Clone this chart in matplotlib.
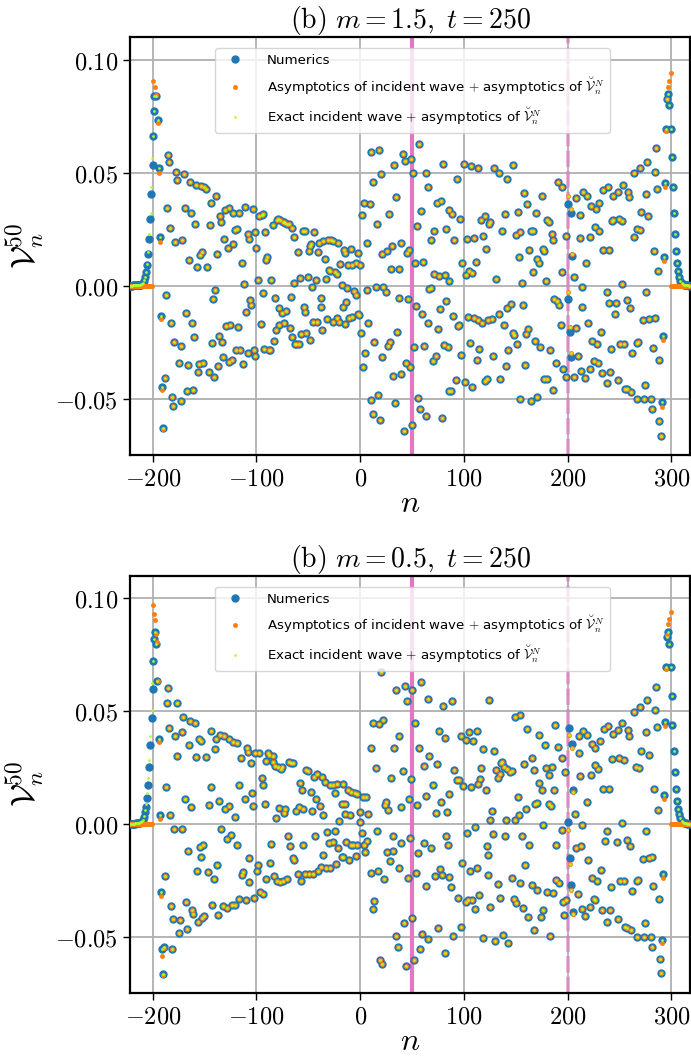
import numpy as np
import matplotlib
matplotlib.use('Agg')
import matplotlib.pyplot as plt

plt.rcParams['mathtext.fontset'] = 'cm'
plt.rcParams['font.family'] = ['DejaVu Sans']

sc = 1e-3

## ---------------- top panel (m = 1.5) ----------------
# points where all three series coincide
top_a_n = [-188.4,-187.4,-185.5,-184.2,-186.2,-183.3,-182.6,-181.0,-180.4,-179.7,
           -178.1,-177.2,-176.2,-174.3,-173.0,-172.3,-171.4,-170.1,-169.1,-168.2,
           -167.2,-166.2,-165.3,-164.0,-163.0,-162.1,-161.1,-160.1,-159.2,-158.5,
           -156.9,-156.0,-155.0,-154.0,-153.1,-152.1,-151.2,-150.2,-148.3,-147.3,
           -146.0,-144.7,-143.8,-143.1,-142.2,-141.2,-139.9,-139.0,-138.0,-137.0,
           -136.4,-135.4,-134.5,-133.5,-131.9,-130.9,-130.0,-129.0,-127.7,-126.8,
           -126.1,-125.2,-123.9,-122.9,-122.3,-121.0,-120.0,-119.1,-118.1,-116.5,
           -115.5,-113.9,-113.0,-112.0,-111.0,-110.1,-108.5,-108.1,-107.2,-106.2,
           -105.2,-103.6,-102.4,-101.7,-101.1,-100.1,-98.8,-97.5,-95.9,-95.0,
           -94.0,-93.4,-92.4,-91.4,-90.5,-89.5,-87.9,-86.6,-85.6,-84.4,
           -83.4,-82.4,-81.2,-79.9,-78.9,-78.3,-77.9,-77.0,-75.7,-74.7,
           -73.5,-73.1,-72.2,-71.2,-70.2,-69.0,-68.0,-67.0,-65.7,-65.4,
           -64.1,-63.5,-62.9,-61.6,-60.3,-59.0,-57.7,-56.8,-55.5,-54.5,
           -53.5,-52.9,-52.3,-50.7,-49.4,-48.4,-48.1,-47.1,-46.2,-45.2,
           -44.2,-42.9,-42.0,-41.0,-39.4,-38.1,-37.5,-36.5,-35.6,-34.3,
           -33.0,-32.0,-31.1,-30.1]
top_a_v = [-41.1,-4.1,57.9,54.8,34.3,25.4,-16.7,-49.5,-53.4,-25.1,
           19.2,50.5,46.9,-34.4,-51.1,-26.5,20.2,49.5,34.3,-12.0,
           -46.6,-35.2,11.4,46.1,32.1,-16.4,-46.0,-22.9,27.2,44.6,
           8.1,-38.1,-34.6,13.6,44.3,15.1,-34.1,43.9,42.9,8.1,
           -38.1,26.9,36.8,-25.3,-6.1,-40.6,-1.8,39.9,13.9,-35.6,
           -22.2,30.9,28.2,-24.8,-31.5,20.8,33.6,-17.7,16.7,-33.7,
           34.6,-17.4,-33.0,18.5,32.1,24.7,-28.5,25.0,-18.2,32.4,
           -28.5,10.2,-34.7,0.6,35.0,-11.5,23.1,-29.9,20.5,-6.4,
           -8.4,34.0,-28.5,-31.2,23.6,16.6,2.5,31.0,-17.0,31.3,
           31.6,-3.4,-28.2,23.6,11.4,12.6,-28.5,-28.5,2.5,27.0,
           -24.4,-5.6,-19.7,29.1,29.6,-10.1,-17.4,29.1,-12.3,28.4,
           28.4,-16.7,27.9,-11.1,27.2,27.2,-18.9,-5.2,25.4,-22.6,
           1.3,21.7,-25.9,-25.9,15.1,-25.9,3.3,-21.6,24.4,-9.3,
           -11.5,24.4,-21.1,3.7,15.5,-24.2,17.6,18.5,-0.6,-16.0,
           23.6,2.5,-16.0,14.8,18.8,-5.3,-9.3,-19.7,20.0,11.7,
           2.8,-14.9,20.2,6.9]

top_b_n = [-28.6,-26.0,-21.5,-15.7,-14.4,-9.3,-1.9,-19.2,-11.5,-8.3,
           -4.2,0.3,-28.9,-24.1,-22.8,-18.0,-12.5,-6.4,-4.5,-16.7,
           -13.8,-26.0,-22.1,-20.2,-15.1,-10.6,-8.0,-2.2,-0.9]
top_b_v = [20.2,19.8,19.1,15.8,14.3,16.1,14.6,9.8,9.0,9.0,
           10.2,9.0,6.7,5.9,5.0,0.3,-1.2,-2.2,-4.3,-9.3,
           -7.1,-16.0,-14.2,-16.3,-17.0,-14.2,-13.7,-12.6,-13.0]

top_c_n = [10.6,18.0,40.8,43.0,48.8,56.9,32.8,19.9,51.1,63.0,
           12.5,64.9,35.0,3.6,9.0,1.6,28.0,58.8,74.2,78.0,
           16.1,54.9,71.0,6.1,30.8,38.9,21.5,26.0,47.2,45.3,
           68.7,83.2,29.9,37.3,53.0,61.0,71.3,75.8,81.9,6.8,
           15.1,22.2,24.7,67.8,66.5,37.6,45.9,54.0,59.7,65.5,
           77.1,74.8,82.9,7.7,1.0,13.5,27.3,29.2,35.7,4.5,
           20.6,2.6,52.0,61.7,72.9,70.0,81.0,84.2,43.7,47.9,
           31.8,39.5,10.0,17.0,33.7,55.9,11.9,19.0,57.8,63.9,
           78.7,42.1,49.8,85.8,80.0,85.7,85.7]
top_c_v = [59.0,60.2,58.4,55.1,56.2,62.7,53.4,49.4,50.1,49.8,
           45.7,43.9,39.3,36.5,36.1,31.2,31.8,33.1,36.5,37.5,
           27.5,26.6,24.2,19.1,17.6,18.9,14.2,15.2,15.8,14.3,
           20.2,25.1,7.2,7.2,10.2,10.5,5.2,4.3,4.7,-1.9,
           -0.7,-0.7,-3.0,-0.9,-1.6,-5.6,-6.1,-8.9,-12.6,-16.7,
           -10.5,-19.2,-6.9,-16.7,-21.1,-24.8,-26.5,-24.8,-20.7,-30.0,
           -31.8,-36.1,-27.3,-26.8,-31.3,-33.3,-26.3,-27.0,-34.1,-36.1,
           -39.8,-39.3,-50.7,-48.2,-51.9,-49.7,-57.0,-59.5,-54.8,-57.8,
           -58.5,-64.3,-61.8,-46.7,53.8,2.2,33.3]

top_d_n = [100.2,106.6,114.0,129.4,133.9,141.9,147.4,93.4,190.7,194.3,
           158.0,175.0,160.9,169.2,139.3,151.9,214.5,219.0,207.7,234.1,
           239.2,243.7,248.2,253.3,257.8,259.1,264.3,269.7,276.8,284.2,
           285.1,286.1,275.8,271.0,277.7,249.5,242.7,230.2,222.8,227.0,
           211.6,198.7,205.8,194.9,198.7,206.1,179.8,181.7,184.9,185.6,
           166.6,164.7,162.8,175.9,177.6,170.2,172.7,166.6,156.0,178.8,
           150.3,154.4,153.2,124.9,120.4,116.2,123.9,136.8,121.7,118.8,
           109.5,103.4,97.9,101.8,105.0,107.6,112.1,131.0,88.6,96.0,
           90.9,89.6,94.4,95.4,104.3,109.8,114.0,117.2,123.0,126.8,
           133.6,141.6,145.1,157.0,138.4,147.4,148.7,159.6,161.5,168.2,
           173.7,183.0,189.1,195.9,212.9,217.1,221.2,225.1,228.9,233.1,
           237.6,240.8,248.5,255.3,257.2,261.0,266.8,273.6,280.3,274.2,
           280.9,288.3,290.3,287.7,282.2,284.2,278.4,272.3,266.5,268.1,
           262.0,254.3,250.4,241.8,246.0,246.9,240.2,237.9,252.1,257.2,
           259.8,275.2,287.1,283.2,214.2,218.0,211.9,221.5,226.0,230.2,
           233.8,240.2,263.6,269.7,266.5,252.7,244.0,213.8,219.9,223.8,
           228.3,231.8,210.0,207.7,191.7,189.4,187.2,193.3,185.9,177.6,
           179.8,170.8,165.0,154.1,158.9,151.2,142.9,140.3,134.5,128.1,
           122.7,120.4,113.0,114.9,106.3,97.6,107.6,101.1,92.1,88.0]
top_d_v = [53.8,52.8,52.3,52.3,49.8,47.4,53.4,47.4,46.1,43.5,
           41.2,39.9,36.1,32.4,31.9,32.7,41.4,39.8,38.9,42.4,
           43.6,39.8,41.7,44.8,41.5,39.2,49.8,52.0,54.8,50.5,
           60.9,42.9,40.8,32.7,30.7,29.7,28.7,36.5,35.5,34.0,
           31.3,22.0,3.7,6.2,-40.3,-40.6,29.0,28.2,22.9,20.1,
           24.2,24.2,15.7,16.3,15.2,11.7,9.9,5.9,1.0,2.1,
           22.3,23.6,12.9,28.4,31.0,29.1,27.2,24.4,16.4,22.2,
           21.1,20.5,10.1,4.7,6.4,5.5,10.6,3.0,31.6,29.6,
           20.2,-13.4,-17.9,-17.4,-13.7,-14.2,-15.2,-16.4,-15.2,-14.9,
           -12.7,-9.8,-8.3,-8.6,-17.4,-21.1,-21.7,-21.4,-19.2,-24.5,
           -27.0,-28.5,-34.1,-36.7,-37.8,-40.9,-36.8,-33.3,-34.3,-38.6,
           -43.3,-38.4,-41.8,-45.7,-45.7,-47.1,-50.4,-50.1,-50.1,-44.0,
           -54.8,-59.9,-66.5,-33.0,-27.5,-14.2,-14.9,-15.2,-25.3,-25.0,
           -30.0,-25.9,-25.9,-28.1,-12.4,-7.8,-7.8,-2.8,0.6,-6.5,
           -9.8,-2.7,6.5,15.5,-0.7,9.9,21.3,21.6,26.2,24.2,
           15.7,15.7,21.7,24.7,25.0,28.5,29.1,-9.6,-16.4,-24.5,
           -25.9,-20.7,-31.2,-18.9,-8.6,-6.8,-5.8,-17.4,-46.0,-41.5,
           -41.5,-49.5,-51.0,-50.0,-35.2,-26.0,-28.5,-35.6,-41.5,-31.2,
           -41.5,-42.0,-33.0,-27.9,-25.6,-30.7,-44.8,-42.6,-41.8,-46.6]

# left edge (n < -189): numerics, asymptotics and exact incident wave differ
top_left_num_n = [-222,-221,-220,-219,-218,-217,-216,-215,-214,-213,-212,-211,-210,
                  -209.6,-208.3,-207.4,-206.4,-205.4,-204.1,-203.2,-202.2,-201.3,
                  -200.0,-199.4,-199.0,-198.4,-197.1,-194.8,-194.2,-193.2,-192.3,-191.3,-189.7]
top_left_num_v = [0.0,0.0,0.0,0.1,0.1,0.1,0.1,0.2,0.2,0.3,0.4,0.5,0.7,
                  1.0,2.2,3.7,5.9,9.2,14.0,20.8,29.7,40.8,
                  53.4,66.1,77.3,84.1,84.0,73.3,52.0,21.4,-13.4,-44.8,-63.0]
top_left_asy_n = [-199.6,-197.8,-196.8,-195.1,-194.2,-193.2,-191.9,-191.0,-189.7]
top_left_asy_v = [90.7,88.1,84.5,72.0,49.8,19.5,-14.9,-46.0,-63.3]
top_left_ext_n = [-222,-221,-220,-219,-218,-217,-216,-215,-214,-213,-212,-211,-210,
                  -209.6,-208.3,-207.4,-206.4,-205.4,-204.1,-203.2,-201.9,-201.3,-200.6,
                  -199.4,-199.0,-198.4,-197.1,-194.8,-194.2,-193.2,-192.3,-191.3,-189.7]
top_left_ext_v = [0.0,0.0,0.0,0.1,0.1,0.1,0.2,0.2,0.3,0.4,0.5,0.7,0.9,
                  1.3,2.5,4.0,6.2,9.6,14.9,22.8,32.4,43.9,56.5,
                  66.1,77.3,84.1,84.0,73.3,52.0,21.4,-13.4,-44.8,-63.0]

# right edge (n > 290)
top_right_num_n = [291.0,291.9,292.8,294.1,294.4,296.0,297.0,297.6,299.3,300.2,
                   301.2,302.1,303.1,304.1,305.4,306.3,307.3,308.6,
                   310,311,312,313,314,315,316,317]
top_right_num_v = [-51.6,-22.3,12.9,45.4,69.5,82.6,85.0,80.1,69.5,56.8,
                   43.9,32.4,22.9,15.5,10.2,6.7,4.0,2.2,
                   1.2,0.8,0.5,0.3,0.2,0.1,0.1,0.0]
top_right_asy_n = [290.6,291.9,293.2,294.1,295.1,296.0,297.0,297.6,299.3]
top_right_asy_v = [-53.5,-24.1,10.9,43.5,68.6,82.6,88.0,90.7,94.1]

# around the dashed line n = 200
top_mid_n = [200.4,200.7,202.0,202.9,203.6,204.5]
top_mid_num_v = [-5.9,36.2,-20.5,-31.5,32.4,13.2]
top_mid_asy_v = [-2.7,39.5,-18.2,-30.0,33.9,14.2]

## ---------------- bottom panel (m = 0.5) ----------------
bot_a_n = [-188.4,-187.5,-185.5,-186.2,-184.2,-183.3,-182.0,-180.7,-181.3,-178.1,
           -176.8,-176.2,-179.4,-172.0,-173.6,-174.3,-171.4,-170.4,-169.1,-168.2,
           -167.2,-166.2,-165.0,-164.0,-163.0,-162.1,-161.1,-159.2,-157.9,-156.9,
           -156.0,-154.7,-153.4,-155.0,-152.1,-150.2,-153.0,-151.8,-148.3,-147.0,
           -145.4,-144.1,-143.5,-142.8,-140.9,-139.9,-139.0,-138.0,-136.4,-137.4,
           -135.1,-134.1,-132.2,-130.9,-130.0,-128.4,-128.0,-126.8,-126.1,-124.5,
           -123.9,-122.3,-120.3,-121.0,-119.1,-118.4,-117.1,-116.5,-114.9,-113.9,
           -112.9,-111.0,-110.1,-109.4,-107.8,-107.5,-106.8,-105.6,-104.3,-103.0,
           -102.4,-101.4,-99.8,-98.5,-97.9,-96.3,-95.0,-94.0,-93.7,-92.1,
           -91.1,-90.5,-88.9,-87.6,-86.6,-85.6,-84.4,-83.7,-83.1,-81.8,
           -81.5,-80.2,-79.2,-78.3,-77.3,-76.0,-75.1,-74.1,-73.1,-72.2,
           -70.9,-69.9,-68.6,-67.3,-66.4,-65.1,-64.8,-63.5,-62.2,-60.3,
           -59.0,-58.0,-56.4,-57.0,-55.1,-54.8,-53.2,-52.6,-50.3,-49.4,
           -47.4,-46.8,-45.8,-44.9,-43.9,-42.9,-42.0,-41.0,-39.1,-38.1,
           -37.2,-36.2,-35.6,-34.3,-33.3,-32.3,-30.1]
bot_a_v = [-23.2,16.2,60.0,53.4,42.5,4.1,-36.4,-42.0,-55.6,39.1,
           53.5,30.2,-2.2,-2.2,-42.8,-48.4,40.6,47.2,11.1,-34.7,
           -46.5,-12.2,35.0,45.4,7.4,-38.4,-39.8,44.5,29.8,-20.7,
           -43.5,-10.3,36.9,37.6,-41.7,-40.9,-14.5,-9.6,29.8,-21.4,
           8.4,41.3,16.5,-36.1,-24.3,33.2,37.6,-18.1,10.0,-40.3,
           39.5,-2.2,-36.6,38.9,6.6,-6.9,-37.2,8.1,37.6,-4.9,
           -36.1,36.4,3.2,-36.1,35.8,-9.6,-33.2,17.3,29.1,-22.6,
           -21.4,11.1,-33.8,33.5,31.7,-15.0,-25.8,27.0,13.7,8.1,
           -32.9,31.3,-20.7,-18.4,31.3,-30.2,20.2,17.3,-31.0,9.0,
           27.9,-24.3,31.3,30.5,-17.3,-9.0,27.6,30.2,-23.0,25.8,
           2.7,-25.5,25.1,6.8,-25.8,24.3,25.1,-25.5,4.9,6.6,
           -24.3,-5.6,27.3,-9.7,26.8,27.1,-15.2,-16.2,5.8,-22.4,
           7.4,18.1,15.0,-25.5,6.6,-9.6,-22.4,23.9,23.3,-22.4,
           14.0,5.6,-22.1,20.9,-5.2,11.1,22.0,-20.7,8.1,-19.2,
           20.9,-13.6,4.0,18.4,-19.8,-3.8,-8.4]

bot_b_n = [-29.2,-26.6,-22.1,-17.0,-24.1,-11.5,-9.0,-5.1,-3.5,-18.0,
           -14.8,-0.3,-9.6,-20.2,-14.4,-24.7,-26.6,-21.5,-13.8,-9.3,
           -6.7,-2.9,3.2,6.1,-23.4,-17.6,-16.4,-10.9,-4.5,4.5,
           2.9,5.2,8.0,0.3,1.3,-29.2]
bot_b_v = [17.0,17.3,17.7,17.7,13.6,14.8,14.0,13.6,13.4,8.9,
           8.6,5.2,3.7,1.2,4.4,-3.0,-8.0,-10.5,-8.1,-9.3,
           -9.3,-9.3,-9.3,-7.4,-18.0,-14.8,-14.5,-15.9,-14.3,-12.5,
           12.1,11.9,4.4,1.0,-4.1,-19.6]

bot_c_n = [19.9,35.0,43.0,50.4,58.5,45.3,64.9,80.0,11.9,18.0,
           22.2,53.0,37.0,75.8,81.9,10.6,32.8,56.9,66.8,14.8,
           29.6,40.8,48.8,61.4,73.9,85.8,70.3,25.1,27.0,23.8,
           38.9,46.9,54.9,63.0,72.9,77.7,83.8,16.1,31.8,39.8,
           47.9,62.0,68.7,82.9,84.8,55.9,25.7,31.2,28.9,37.9,
           10.0,16.7,22.8,54.0,63.9,72.0,78.7,77.1,85.8,45.9,
           13.8,11.9,42.1,49.8,34.4,59.7,65.8,36.0,57.8,74.8,
           81.6,19.0,20.6,43.7,52.0]
bot_c_v = [67.1,59.4,60.9,59.3,62.7,54.4,55.3,52.4,44.5,44.3,
           46.0,44.7,38.8,41.0,38.1,33.8,33.6,33.6,30.2,24.6,
           20.5,23.3,19.9,25.5,26.6,13.3,17.0,9.6,6.3,8.4,
           7.4,10.8,8.4,12.2,4.9,9.6,5.2,-3.1,-5.6,-8.3,
           -6.3,-8.4,-10.6,-5.6,-9.6,-12.8,-12.7,-12.2,-16.5,-19.5,
           -21.8,-20.9,-24.6,-21.8,-27.6,-23.0,-22.6,-19.9,-23.6,-24.0,
           -34.4,-37.6,-44.1,-41.6,-49.7,-49.0,-51.2,-54.4,-55.3,-46.0,
           -57.1,-60.5,-62.0,-63.0,-60.2]

bot_d_n = [88.6,124.3,97.6,102.1,105.0,109.2,112.4,118.5,129.1,116.9,
           90.5,93.4,95.4,98.9,106.6,114.0,115.9,121.4,135.5,131.3,
           134.5,136.8,139.0,141.6,144.2,146.4,133.2,149.3,154.4,160.9,
           172.1,187.8,177.9,190.4,194.3,197.8,158.0,166.0,167.6,178.8,
           185.3,181.7,172.7,175.0,186.9,151.9,152.8,160.2,168.6,170.2,
           182.1,184.3,149.0,140.6,125.5,127.1,110.4,102.7,128.1,140.0,
           156.0,163.1,176.3,189.1,194.6,123.0,122.0,98.6,106.3,112.7,
           123.0,132.6,146.1,154.1,158.6,165.4,170.8,179.8,186.2,188.8,
           192.0,88.0,94.4,102.1,104.0,107.9,111.1,114.9,124.9,134.9,
           148.0,150.6,157.0,162.1,174.3,176.6,167.6,183.0,195.5,196.2,
           198.7,89.9,97.0,118.5,130.4,138.1,142.9,211.3,214.8,219.0,
           223.2,226.4,230.9,234.7,239.2,244.0,248.2,252.7,258.2,259.1,
           264.0,269.7,276.8,284.2,285.1,286.1,275.8,270.7,278.1,265.9,
           268.4,254.0,249.2,243.1,233.8,240.2,226.0,229.6,222.2,212.2,
           218.3,214.2,211.0,238.2,236.3,247.2,252.1,257.2,259.8,275.2,
           287.1,283.2,280.9,278.4,272.3,266.5,268.1,262.0,254.3,250.4,
           241.8,213.2,219.9,223.8,228.3,231.8,226.0,214.2,209.7,207.7,
           217.1,221.2,225.1,233.1,237.6,240.8,248.5,255.3,257.2,261.0,
           266.8,273.6,280.3,274.2,281.3,288.0,282.2,288.7,290.3,207.1]
bot_d_v = [54.6,55.0,39.1,37.2,40.6,36.9,41.0,33.0,32.3,24.6,
           23.9,19.6,19.3,16.8,16.5,17.7,19.9,15.2,26.8,24.0,
           22.3,27.6,25.1,24.3,22.9,23.5,20.2,47.3,48.2,42.0,
           39.4,43.8,35.0,34.2,29.1,22.9,26.6,29.1,23.7,24.9,
           25.1,21.7,18.0,15.2,15.0,11.8,4.0,6.6,8.8,9.3,
           8.8,7.8,1.9,1.8,1.5,5.8,-1.6,-4.0,-4.4,-5.5,
           -5.2,-9.3,-0.3,-9.6,-2.9,-13.6,-10.0,-17.4,-20.9,-19.6,
           -22.6,-26.6,-23.9,-26.3,-18.4,-27.0,-29.2,-30.4,-30.7,-24.9,
           -26.1,-28.0,-32.7,-34.7,-33.9,-33.6,-37.6,-31.7,-36.9,-32.7,
           -33.5,-35.0,-37.2,-41.3,-41.3,-38.4,-47.2,-49.9,-34.7,-40.3,
           -33.9,-49.9,-45.7,-50.4,-52.1,-49.4,-52.8,38.8,41.3,39.5,
           35.3,33.5,36.6,42.0,43.5,39.7,41.6,44.5,41.4,39.1,
           49.7,51.9,54.7,50.4,60.8,42.8,40.6,32.3,30.5,25.1,
           24.6,28.3,29.4,28.8,15.5,15.5,26.1,24.3,21.7,21.4,
           9.6,-0.7,31.3,-3.0,-7.4,-8.1,0.3,-7.1,-9.9,-3.0,
           6.3,15.5,-14.5,-15.2,-15.5,-25.5,-25.1,-29.9,-25.5,-25.5,
           -28.0,-9.9,-16.2,-24.0,-25.2,-20.6,-33.9,-37.6,-31.3,-10.8,
           -40.9,-36.9,-33.2,-38.4,-43.5,-38.4,-42.0,-45.7,-46.2,-47.2,
           -50.3,-50.2,-50.2,-44.0,-54.7,-33.2,-27.6,-59.7,-66.1,4.3]

bot_left_num_n = [-222,-221,-220,-219,-218,-217,-216,-215,-214,-213,-212,-211,-210,
                  -209.6,-208.3,-207.4,-206.4,-205.4,-204.1,-203.2,-202.2,-200.9,
                  -200.0,-199.3,-198.7,-197.7,-197.1,-195.5,-194.2,-193.2,-192.3,
                  -191.0,-190.0,-189.5]
bot_left_num_v = [0.0,0.0,0.0,0.1,0.1,0.1,0.2,0.2,0.3,0.4,0.5,0.7,1.0,
                  1.5,3.0,5.2,7.4,11.5,17.4,25.1,35.1,46.9,
                  59.7,72.3,81.9,85.1,79.8,63.4,37.6,4.0,-30.2,
                  -55.5,-66.5,-54.5]
bot_left_asy_n = [-199.6,-198.7,-197.5,-196.9,-196.2,-195.1,-194.2,-193.2,-192.3,
                  -191.3,-190.5,-189.5]
bot_left_asy_v = [97.1,93.2,90.4,84.0,80.8,63.4,36.1,2.2,-32.0,-58.4,-67.0,-55.0]
bot_left_ext_n = [-222,-221,-220,-219,-218,-217,-216,-215,-214,-213,-212,-211,-210,
                  -209.6,-208.3,-207.4,-206.4,-205.4,-204.1,-203.2,-202.2,-201.0,-200.3,
                  -199.3,-198.7,-197.7,-197.1,-195.5,-194.2,-193.2,-192.3,
                  -191.0,-190.0,-189.5]
bot_left_ext_v = [0.0,0.0,0.0,0.1,0.1,0.2,0.2,0.3,0.4,0.5,0.7,0.9,1.3,
                  1.9,3.6,6.2,8.8,13.5,20.3,28.5,39.0,50.5,62.5,
                  72.3,81.9,85.1,79.8,63.4,37.6,4.0,-30.2,
                  -55.5,-66.5,-54.5]

bot_right_num_n = [291.0,291.9,292.8,294.1,294.4,296.0,297.0,297.6,299.3,300.2,
                   300.9,302.1,303.1,304.1,305.4,306.3,307.3,308.6,
                   310,311,312,313,314,315,316,317]
bot_right_num_v = [-51.6,-22.1,12.8,45.3,69.3,82.6,85.1,79.9,69.3,56.8,
                   44.0,32.5,22.9,15.5,10.3,6.6,4.4,2.4,
                   1.3,0.8,0.5,0.3,0.2,0.1,0.1,0.0]
bot_right_asy_n = [290.9,291.9,293.2,294.1,295.1,296.0,297.0,297.6,299.3]
bot_right_asy_v = [-53.0,-24.0,10.8,43.4,68.6,83.5,88.5,90.7,94.1]

bot_mid_n = [201.0,203.9,204.9,200.4,202.0,202.9,205.2]
bot_mid_num_v = [42.3,35.3,15.2,0.6,-15.2,-27.3,-39.1]
bot_mid_asy_v = [39.4,33.5,14.0,-2.9,-18.0,-29.5,-40.0]

# asymptotic formula is zero outside the light cone
asy_zero_left_n = list(range(-222, -200))
asy_zero_right_n = list(range(300, 318))

lab_num = 'Numerics'
lab_asy = r'Asymptotics of incident wave $+$ asymptotics of $\breve{\mathcal{V}}_n^N$'
lab_ext = r'Exact incident wave $+$ asymptotics of $\breve{\mathcal{V}}_n^N$'

c_num = '#1f77b4'
c_asy = '#ff7f0e'
c_ext = '#adff2f'
c_line = '#e377c2'


def panel(ax, shared_n, shared_v, left, right, mid, title):
    ln_n, ln_v, la_n, la_v, le_n, le_v = left
    rn_n, rn_v, ra_n, ra_v = right
    m_n, m_num, m_asy = mid
    zl = [0.0] * len(asy_zero_left_n)
    zr = [0.0] * len(asy_zero_right_n)

    num_n = shared_n + ln_n + rn_n + m_n
    num_v = shared_v + ln_v + rn_v + m_num
    asy_n = shared_n + asy_zero_left_n + la_n + ra_n + asy_zero_right_n + m_n
    asy_v = shared_v + zl + la_v + ra_v + zr + m_asy
    ext_n = shared_n + le_n + rn_n + m_n
    ext_v = shared_v + le_v + rn_v + m_asy

    ax.axvline(50, color=c_line, lw=3.0, zorder=1)
    ax.axvline(200, color=c_line, lw=2.6, ls=(0, (4.5, 1.2)), alpha=0.65, zorder=1)

    ax.plot(num_n, np.array(num_v) * sc, 'o', ls='none', ms=5.0, color=c_num,
            label=lab_num, zorder=3)
    ax.plot(asy_n, np.array(asy_v) * sc, 'o', ls='none', ms=3.0, mew=0.5, color=c_asy,
            label=lab_asy, zorder=4)
    ax.plot(ext_n, np.array(ext_v) * sc, 'o', ls='none', ms=1.5, mew=0.4, color=c_ext,
            label=lab_ext, zorder=5)

    ax.set_xlim(-222, 318)
    ax.set_ylim(-0.075, 0.110)
    ax.set_xticks([-200, -100, 0, 100, 200, 300])
    ax.set_xticklabels([r'$-200$', r'$-100$', r'$0$', r'$100$', r'$200$', r'$300$'])
    ax.set_yticks([-0.05, 0.0, 0.05, 0.10])
    ax.set_yticklabels([r'$-0.05$', r'$0.00$', r'$0.05$', r'$0.10$'])
    ax.tick_params(labelsize=17.5, length=5, width=1)
    ax.grid(True, color='#b0b0b0', lw=1.3)
    ax.set_axisbelow(True)
    for s in ax.spines.values():
        s.set_linewidth(1.6)
    ax.set_xlabel(r'$n$', fontsize=23, labelpad=-2)
    ax.set_ylabel(r'$\mathcal{V}_n^{50}$', fontsize=24, labelpad=6)
    ax.set_title(title, fontsize=20, pad=5)
    ax.legend(loc='upper center', bbox_to_anchor=(0.505, 0.99), fontsize=9.6,
              labelspacing=0.62, borderpad=0.45, handletextpad=1.4, framealpha=0.8)


fig = plt.figure(figsize=(6.91, 10.59), dpi=100)
ax1 = fig.add_axes([0.188, 0.5703, 0.8106, 0.3945])
ax2 = fig.add_axes([0.188, 0.0623, 0.8106, 0.3941])

panel(ax1, top_a_n + top_b_n + top_c_n + top_d_n, top_a_v + top_b_v + top_c_v + top_d_v,
      (top_left_num_n, top_left_num_v, top_left_asy_n, top_left_asy_v,
       top_left_ext_n, top_left_ext_v),
      (top_right_num_n, top_right_num_v, top_right_asy_n, top_right_asy_v),
      (top_mid_n, top_mid_num_v, top_mid_asy_v),
      r'$\mathrm{(b)}\ m=1.5,\ t=250$')
panel(ax2, bot_a_n + bot_b_n + bot_c_n + bot_d_n, bot_a_v + bot_b_v + bot_c_v + bot_d_v,
      (bot_left_num_n, bot_left_num_v, bot_left_asy_n, bot_left_asy_v,
       bot_left_ext_n, bot_left_ext_v),
      (bot_right_num_n, bot_right_num_v, bot_right_asy_n, bot_right_asy_v),
      (bot_mid_n, bot_mid_num_v, bot_mid_asy_v),
      r'$\mathrm{(b)}\ m=0.5,\ t=250$')

fig.savefig('out.png', dpi=100)
